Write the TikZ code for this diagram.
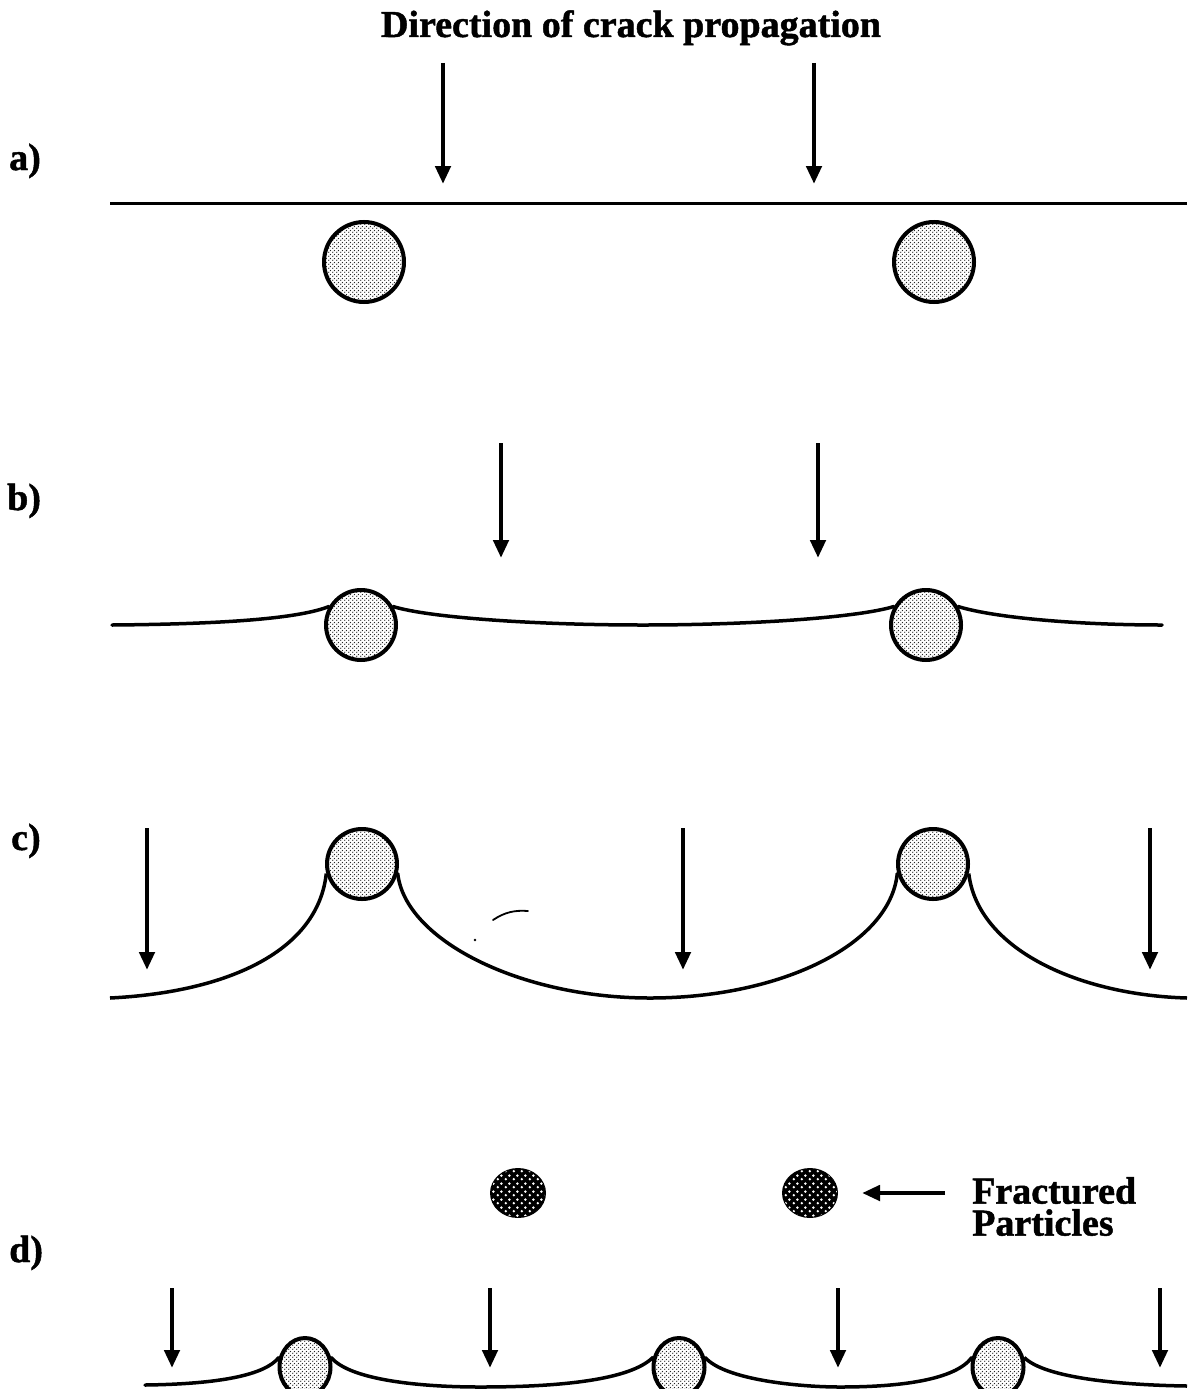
\documentclass[tikz,border=0pt]{standalone}
\usepackage{fontspec}
\setmainfont{Liberation Serif}[BoldFeatures={FakeBold=1.2}]
\usetikzlibrary{arrows.meta,shapes.geometric,patterns.meta}
\pgfdeclarelayer{bg}
\pgfsetlayers{bg,main}
\pgfdeclarepattern{name=stipple, type=uncolored,
  bottom left={\pgfpoint{0pt}{0pt}}, top right={\pgfpoint{4pt}{4pt}},
  tile size={\pgfpoint{4pt}{4pt}},
  code={\pgfpathcircle{\pgfpoint{1pt}{1pt}}{0.8pt}\pgfpathcircle{\pgfpoint{3pt}{3pt}}{0.8pt}\pgfusepath{fill}}}
\pgfdeclarepattern{name=fracdots, type=uncolored,
  bottom left={\pgfpoint{0pt}{0pt}}, top right={\pgfpoint{8pt}{8pt}},
  tile size={\pgfpoint{8pt}{8pt}},
  code={\pgfpathcircle{\pgfpoint{2pt}{2pt}}{1.5pt}\pgfpathcircle{\pgfpoint{6pt}{6pt}}{1.5pt}\pgfusepath{fill}}}
\tikzset{
  lab/.style={font=\fontsize{38}{32}\selectfont\bfseries, inner sep=0pt},
  arr/.style={line width=4.5pt, -{Triangle[length=18pt,width=15pt]}},
  crack/.style={line width=3.5pt, line cap=round},
  part/.style={circle, draw, line width=4pt, inner sep=0pt,
    preaction={fill=white}, pattern=stipple, pattern color=black!85},
  epart/.style={ellipse, draw, line width=4pt, inner sep=0pt,
    preaction={fill=white}, pattern=stipple, pattern color=black!85},
  frac/.style={ellipse, draw, line width=2pt, inner sep=0pt, fill=black,
    postaction={pattern=fracdots, pattern color=white}},
}
\begin{document}
\begin{tikzpicture}[x=1pt,y=-1pt]
\useasboundingbox (0,0) rectangle (1187,1389);

% title
\node[lab, anchor=base] (title) at (631,37) {Direction of crack propagation};

% ---------- a) ----------
\node[lab, anchor=base west] (la) at (9,170) {a)};
\coordinate (a0) at (110,203);
\coordinate (a9) at (1187,203);
\draw[crack, line width=3pt, line cap=butt] (a0) -- (a9);
\coordinate (aa1s) at (443,63); \coordinate (aa1e) at (443,184);
\coordinate (aa2s) at (814,63); \coordinate (aa2e) at (814,184);
\draw[arr] (aa1s) -- (aa1e);
\draw[arr] (aa2s) -- (aa2e);
\node[part, minimum size=80pt] (a1) at (364,262) {};
\node[part, minimum size=80pt] (a2) at (934,262) {};

% ---------- b) ----------
\node[lab, anchor=base west] (lb) at (7,510) {b)};
\coordinate (ba1s) at (501,443); \coordinate (ba1e) at (501,558);
\coordinate (ba2s) at (818,443); \coordinate (ba2e) at (818,558);
\draw[arr] (ba1s) -- (ba1e);
\draw[arr] (ba2s) -- (ba2e);
\coordinate (b0) at (112,625);
\coordinate (bm) at (643,625);
\coordinate (b9) at (1162,625);
\node[part, minimum size=70pt] (b1) at (361,625) {};
\node[part, minimum size=70pt] (b2) at (926,625) {};
\begin{pgfonlayer}{bg}
\draw[crack] (b0) .. controls (230,624) and (300,618) .. (b1.150);
\draw[crack] (b1.30) .. controls (430,618) and (540,625) .. (bm)
  .. controls (746,625) and (856,618) .. (b2.150);
\draw[crack] (b2.30) .. controls (995,618) and (1080,625) .. (b9);
\end{pgfonlayer}

% ---------- c) ----------
\node[lab, anchor=base west] (lc) at (11,850) {c)};
\coordinate (ca1s) at (147,828); \coordinate (ca1e) at (147,970);
\coordinate (ca2s) at (683,828); \coordinate (ca2e) at (683,970);
\coordinate (ca3s) at (1150,828); \coordinate (ca3e) at (1150,970);
\draw[arr] (ca1s) -- (ca1e);
\draw[arr] (ca2s) -- (ca2e);
\draw[arr] (ca3s) -- (ca3e);
\node[part, minimum size=70pt] (c1) at (362,864) {};
\node[part, minimum size=70pt] (c2) at (933,864) {};
\coordinate (c0) at (110,998);
\coordinate (cm) at (650,998);
\coordinate (c9) at (1187,998);
\begin{pgfonlayer}{bg}
\draw[crack, line cap=butt] (c0) .. controls (230,992) and (318,950) .. (c1.195);
\draw[crack] (c1.-15) .. controls (405,940) and (520,998) .. (cm)
  .. controls (780,998) and (890,945) .. (c2.195);
\draw[crack, line cap=butt] (c2.-15) .. controls (978,950) and (1080,995) .. (c9);
\end{pgfonlayer}
% stray mark
\coordinate (s0) at (493,920); \coordinate (s1) at (528,911);
\draw[line width=1.8pt, line cap=round] (s0) .. controls (505,912) and (515,910) .. (s1);
\coordinate (sd) at (475,940);
\fill (sd) circle (1.3pt);

% ---------- d) ----------
\node[lab, anchor=base west] (ld) at (9,1262) {d)};
\node[frac, minimum width=54pt, minimum height=48pt] (f1) at (518,1193) {};
\node[frac, minimum width=54pt, minimum height=48pt] (f2) at (810,1193) {};
\coordinate (fas) at (945,1193); \coordinate (fae) at (862,1193);
\draw[arr] (fas) -- (fae);
\node[lab, anchor=north west, align=left] (ft) at (972,1177) {Fractured\\Particles};

\coordinate (da1s) at (172,1288); \coordinate (da1e) at (172,1368);
\coordinate (da2s) at (490,1288); \coordinate (da2e) at (490,1368);
\coordinate (da3s) at (838,1288); \coordinate (da3e) at (838,1368);
\coordinate (da4s) at (1160,1288); \coordinate (da4e) at (1160,1368);
\draw[arr] (da1s) -- (da1e);
\draw[arr] (da2s) -- (da2e);
\draw[arr] (da3s) -- (da3e);
\draw[arr] (da4s) -- (da4e);
\node[epart, minimum width=51pt, minimum height=58pt] (d1) at (305,1367) {};
\node[epart, minimum width=51pt, minimum height=58pt] (d2) at (679,1367) {};
\node[epart, minimum width=51pt, minimum height=58pt] (d3) at (998,1367) {};
\coordinate (d0) at (145,1385);
\coordinate (dm1) at (480,1387);
\coordinate (dm2) at (840,1387);
\coordinate (d9) at (1187,1386);
\begin{pgfonlayer}{bg}
\draw[crack] (d0) .. controls (220,1384) and (265,1375) .. (d1.160);
\draw[crack] (d1.20) .. controls (350,1380) and (420,1387) .. (dm1)
  .. controls (560,1387) and (630,1380) .. (d2.160);
\draw[crack] (d2.20) .. controls (725,1380) and (800,1387) .. (dm2)
  .. controls (900,1387) and (955,1380) .. (d3.160);
\draw[crack, line cap=butt] (d3.20) .. controls (1045,1378) and (1120,1385) .. (d9);
\end{pgfonlayer}
\end{tikzpicture}
\end{document}
